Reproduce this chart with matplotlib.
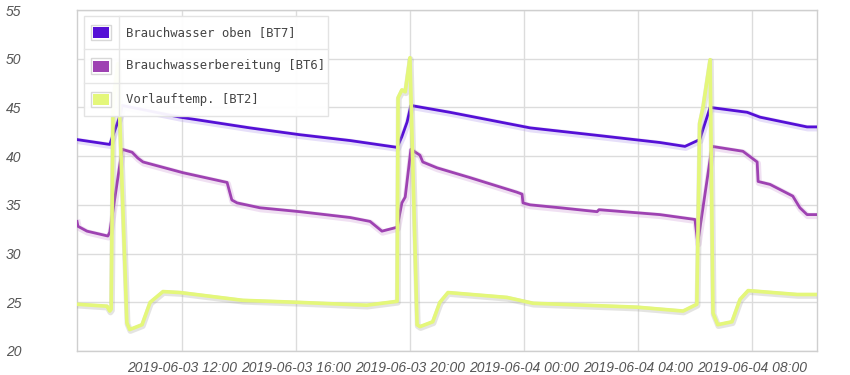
import matplotlib
matplotlib.use("Agg")
import matplotlib.pyplot as plt
import matplotlib.dates as mdates
import matplotlib.patheffects as pe
from matplotlib.patches import Rectangle
import pandas as pd

# ---- data ----
labels = ["Brauchwasser oben [BT7]", "Brauchwasserbereitung [BT6]", "Vorlauftemp. [BT2]"]
colors = ["#5510d6", "#9e42b2", "#e4f77a"]

bt7_t = ["2019-06-03 08:19", "2019-06-03 09:28", "2019-06-03 09:50", "2019-06-03 09:54",
         "2019-06-03 11:56", "2019-06-03 14:23", "2019-06-03 16:08", "2019-06-03 17:54",
         "2019-06-03 19:33", "2019-06-03 19:43", "2019-06-03 19:54", "2019-06-03 20:02",
         "2019-06-03 21:24", "2019-06-04 00:13", "2019-06-04 02:40", "2019-06-04 04:46",
         "2019-06-04 05:39", "2019-06-04 06:10", "2019-06-04 06:32", "2019-06-04 07:50",
         "2019-06-04 08:17", "2019-06-04 09:56", "2019-06-04 10:17"]
bt7_v = [41.7, 41.2, 44.2, 45.2, 44.0, 42.9, 42.2, 41.6, 40.9, 42.0, 43.5, 45.2,
         44.5, 42.9, 42.1, 41.4, 41.0, 41.7, 45.0, 44.5, 44.0, 43.0, 43.0]

bt6_t = ["2019-06-03 08:19", "2019-06-03 08:21", "2019-06-03 08:40", "2019-06-03 09:24",
         "2019-06-03 09:28", "2019-06-03 09:54", "2019-06-03 10:15", "2019-06-03 10:27",
         "2019-06-03 10:38", "2019-06-03 12:02", "2019-06-03 13:35", "2019-06-03 13:45",
         "2019-06-03 13:56", "2019-06-03 14:44", "2019-06-03 16:08", "2019-06-03 17:54",
         "2019-06-03 18:36", "2019-06-03 19:01", "2019-06-03 19:33", "2019-06-03 19:43",
         "2019-06-03 19:50", "2019-06-03 20:02", "2019-06-03 20:21", "2019-06-03 20:27",
         "2019-06-03 20:57", "2019-06-03 22:06", "2019-06-03 23:45", "2019-06-03 23:56",
         "2019-06-03 23:58", "2019-06-04 00:13", "2019-06-04 01:16", "2019-06-04 02:34",
         "2019-06-04 02:38", "2019-06-04 04:46", "2019-06-04 06:00", "2019-06-04 06:06",
         "2019-06-04 06:36", "2019-06-04 07:41", "2019-06-04 08:11", "2019-06-04 08:13",
         "2019-06-04 08:38", "2019-06-04 09:26", "2019-06-04 09:41", "2019-06-04 09:56",
         "2019-06-04 10:17"]
bt6_v = [33.3, 32.8, 32.3, 31.8, 32.2, 40.7, 40.4, 39.8, 39.4, 38.3, 37.3, 35.5,
         35.2, 34.7, 34.3, 33.7, 33.3, 32.3, 32.7, 35.2, 35.8, 40.7, 40.1, 39.4,
         38.8, 37.8, 36.3, 36.1, 35.2, 35.0, 34.7, 34.3, 34.5, 34.0, 33.5, 31.1,
         41.0, 40.5, 39.4, 37.4, 37.1, 35.9, 34.7, 34.0, 34.0]

bt2_t = ["2019-06-03 08:19", "2019-06-03 09:22", "2019-06-03 09:28", "2019-06-03 09:31",
         "2019-06-03 09:35", "2019-06-03 09:45", "2019-06-03 10:04", "2019-06-03 10:10",
         "2019-06-03 10:36", "2019-06-03 10:53", "2019-06-03 11:20", "2019-06-03 11:56",
         "2019-06-03 14:08", "2019-06-03 16:02", "2019-06-03 18:29", "2019-06-03 19:33",
         "2019-06-03 19:35", "2019-06-03 19:43", "2019-06-03 19:50", "2019-06-03 20:00",
         "2019-06-03 20:15", "2019-06-03 20:21", "2019-06-03 20:48", "2019-06-03 21:03",
         "2019-06-03 21:20", "2019-06-03 23:24", "2019-06-04 00:19", "2019-06-04 03:58",
         "2019-06-04 05:35", "2019-06-04 06:04", "2019-06-04 06:10", "2019-06-04 06:17",
         "2019-06-04 06:32", "2019-06-04 06:38", "2019-06-04 06:48", "2019-06-04 07:18",
         "2019-06-04 07:35", "2019-06-04 07:52", "2019-06-04 09:35", "2019-06-04 10:17"]
bt2_v = [24.8, 24.6, 24.1, 24.3, 45.5, 49.5, 22.9, 22.2, 22.7, 25.0, 26.1, 26.0,
         25.2, 25.0, 24.7, 25.1, 46.0, 46.8, 46.6, 50.1, 22.7, 22.5, 23.0, 25.0,
         26.0, 25.5, 24.9, 24.5, 24.1, 24.8, 43.4, 45.0, 49.9, 23.9, 22.7, 23.0,
         25.3, 26.2, 25.8, 25.8]

y_ticks = [20, 25, 30, 35, 40, 45, 50, 55]
x_start, x_end = "2019-06-03 08:19", "2019-06-04 10:17"

# ---- figure ----
W, H = 850, 375
fig = plt.figure(figsize=(W / 100, H / 100), dpi=100)
ax = fig.add_axes([77 / W, 1 - 351 / H, (817 - 77) / W, (351 - 10) / H])

series = [(bt7_t, bt7_v), (bt6_t, bt6_v), (bt2_t, bt2_v)]
halos = ["#b9a4ee", "#d4a8dc", "#a8a8a0"]
widths = [2.0, 2.0, 2.6]
extra = [2.5, 2.5, 1.6]
alphas = [0.35, 0.35, 0.3]
for (t, v), c, h, lw, ex, al, lab in zip(series, colors, halos, widths, extra, alphas, labels):
    ln, = ax.plot(pd.to_datetime(t), v, color=c, lw=lw, label=lab,
                  solid_joinstyle="round", zorder=3)
    ln.set_path_effects([
        pe.Stroke(linewidth=lw + ex, foreground=h, alpha=al, offset=(0.5, -1)),
        pe.Normal()])

ax.set_xlim(pd.Timestamp(x_start), pd.Timestamp(x_end))
ax.set_ylim(20, 55)
ax.set_yticks(y_ticks)
ax.xaxis.set_major_locator(mdates.HourLocator(byhour=[0, 4, 8, 12, 16, 20]))
ax.xaxis.set_major_formatter(mdates.DateFormatter("%Y-%m-%d %H:%M"))

ax.grid(True, color="#dcdcdc", lw=1.0)
ax.set_axisbelow(True)
for s in ax.spines.values():
    s.set_color("#cfcfcf")
    s.set_linewidth(1.0)
ax.tick_params(length=0, colors="#555555")
ax.tick_params(axis="y", pad=40)
ax.tick_params(axis="x", pad=7)
for lbl in ax.get_xticklabels() + ax.get_yticklabels():
    lbl.set_fontfamily("Liberation Sans")
    lbl.set_fontstyle("italic")
    lbl.set_fontsize(10)
    lbl.set_color("#555555")

# ---- legend (table style) ----
def px(x, y):
    return x / W, 1 - y / H

lx0, ly0, lx1, ly1 = 84, 16, 328, 116
row_h = (ly1 - ly0) / 3
fig.patches.append(Rectangle(px(lx0, ly1), (lx1 - lx0) / W, (ly1 - ly0) / H,
                             transform=fig.transFigure, facecolor="white",
                             edgecolor="#e2e2e2", lw=1, zorder=10, alpha=0.95))
for i in range(1, 3):
    yy = ly0 + i * row_h
    fig.lines.append(plt.Line2D([lx0 / W, lx1 / W], [1 - yy / H] * 2,
                                transform=fig.transFigure, color="#e6e6e6", lw=1, zorder=11))
fig.lines.append(plt.Line2D([119 / W, 119 / W], [1 - ly0 / H, 1 - ly1 / H],
                            transform=fig.transFigure, color="#e6e6e6", lw=1, zorder=11))
for i, (lab, c) in enumerate(zip(labels, colors)):
    cy = ly0 + (i + 0.5) * row_h
    fig.patches.append(Rectangle(px(91, cy + 7.5), 20 / W, 15 / H,
                                 transform=fig.transFigure, facecolor="white",
                                 edgecolor="#d8d8d8", lw=1, zorder=12))
    fig.patches.append(Rectangle(px(93, cy + 5.5), 16 / W, 11 / H,
                                 transform=fig.transFigure, facecolor=c,
                                 edgecolor="none", zorder=13))
    fig.text(126 / W, 1 - cy / H, lab, fontfamily="DejaVu Sans Mono", fontsize=8.8,
             color="#444444", va="center", ha="left", zorder=14)

fig.savefig("out.png", dpi=100)
